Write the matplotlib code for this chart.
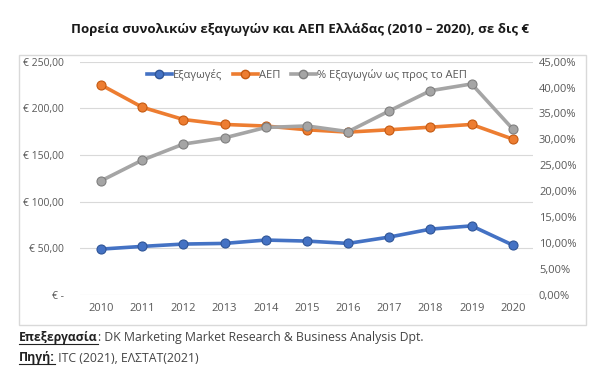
import matplotlib.pyplot as plt
from matplotlib.lines import Line2D
from matplotlib.patches import Rectangle

plt.rcParams['font.family'] = ['Open Sans', 'DejaVu Sans']

years = ['2010', '2011', '2012', '2013', '2014', '2015', '2016', '2017', '2018', '2019', '2020']
exports = [49.1, 52.0, 54.5, 55.2, 58.8, 57.7, 55.2, 62.0, 70.5, 74.0, 53.4]
gdp = [225.1, 201.2, 188.0, 182.7, 181.0, 177.0, 174.5, 177.0, 179.8, 182.7, 167.0]
share = [22.0, 26.0, 29.1, 30.3, 32.3, 32.6, 31.5, 35.5, 39.4, 40.7, 32.0]

left_ticks = [0, 50, 100, 150, 200, 250]
left_labels = ['€ -', '€ 50,00', '€ 100,00', '€ 150,00', '€ 200,00', '€ 250,00']
right_ticks = [0, 5, 10, 15, 20, 25, 30, 35, 40, 45]
right_labels = ['0,00%', '5,00%', '10,00%', '15,00%', '20,00%', '25,00%',
                '30,00%', '35,00%', '40,00%', '45,00%']

blue = '#4472C4'
orange = '#ED7D31'
grey = '#A5A5A5'
txt = '#595959'

fig = plt.figure(figsize=(6, 3.83), dpi=100)
fig.patch.set_facecolor('white')

# chart frame
fig.add_artist(Rectangle((19 / 600, 1 - 325 / 383), 567 / 600, 270 / 383,
                         transform=fig.transFigure, fill=False,
                         edgecolor='#D9D9D9', linewidth=1))

ax = fig.add_axes([0.134, 0.230, 0.755, 0.609])
ax2 = ax.twinx()
x = list(range(len(years)))

ax.set_ylim(0, 250)
ax2.set_ylim(0, 45)
ax.set_xlim(-0.5, len(years) - 0.5)

ax.set_yticks(left_ticks)
ax.set_yticklabels(left_labels)
ax2.set_yticks(right_ticks)
ax2.set_yticklabels(right_labels)
ax.set_xticks(x)
ax.set_xticklabels(years)

for a in (ax, ax2):
    for s in a.spines.values():
        s.set_visible(False)
    a.tick_params(length=0, labelsize=8, labelcolor=txt)
ax.tick_params(axis='y', pad=12, labelsize=7.5)
ax2.tick_params(axis='y', pad=4)
ax.tick_params(axis='x', pad=6)
ax.grid(axis='y', color='#D9D9D9', linewidth=0.8)
ax.set_axisbelow(True)

kw = dict(linewidth=2.6, marker='o', markersize=6.5, markeredgewidth=0.8)
ax.plot(x, exports, color=blue, markeredgecolor='#2F5597', zorder=3, **kw)
ax.plot(x, gdp, color=orange, markeredgecolor='#C55A11', zorder=3, **kw)
ax2.plot(x, share, color=grey, markeredgecolor='#7F7F7F', zorder=3, **kw)

handles = [Line2D([], [], color=c, marker='o', markersize=6, linewidth=2.6,
                  markeredgecolor=e)
           for c, e in ((blue, '#2F5597'), (orange, '#C55A11'), (grey, '#7F7F7F'))]
leg = ax2.legend(handles, ['Εξαγωγές', 'ΑΕΠ', '% Εξαγωγών ως προς το ΑΕΠ'],
                 loc='upper center', bbox_to_anchor=(0.5, 1.01), ncol=3,
                 frameon=False, fontsize=8, handlelength=2.3,
                 handletextpad=0.1, columnspacing=0.9, labelcolor=txt)

fig.text(0.5, 1 - 29 / 383, 'Πορεία συνολικών εξαγωγών και ΑΕΠ Ελλάδας (2010 – 2020), σε δις €',
         ha='center', va='center', fontsize=9.5, fontweight='bold', color='#1a1a1a')

# footnotes
t1 = fig.text(19 / 600, 1 - 338 / 383, 'Επεξεργασία', fontsize=8.8, fontweight='bold',
              color='#222222', va='center')
t2 = fig.text(19 / 600, 1 - 358 / 383, 'Πηγή:', fontsize=8.8, fontweight='bold',
              color='#222222', va='center')
fig.canvas.draw()
r = fig.canvas.get_renderer()
for t, rest in ((t1, ': DK Marketing Market Research & Business Analysis Dpt.'),
                (t2, ' ITC (2021), ΕΛΣΤΑΤ(2021)')):
    bb = t.get_window_extent(r).transformed(fig.transFigure.inverted())
    fig.text(bb.x1, t.get_position()[1], rest, fontsize=8.8, color='#444444', va='center')
    fig.add_artist(Line2D([bb.x0, bb.x1], [bb.y0 + 0.002, bb.y0 + 0.002],
                          transform=fig.transFigure, color='#222222', linewidth=0.8))

fig.savefig('out.png', dpi=100, facecolor='white')
